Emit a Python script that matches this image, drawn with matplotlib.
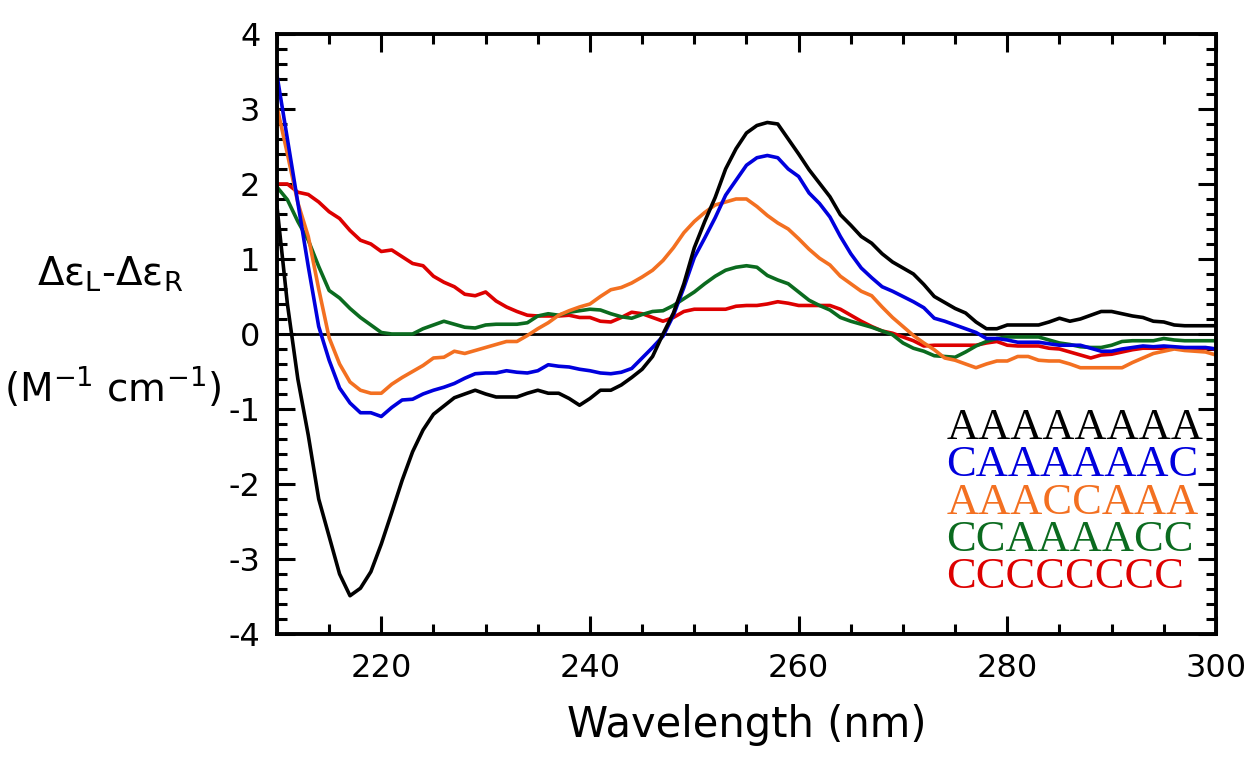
import numpy as np
import matplotlib.pyplot as plt
from matplotlib.ticker import MultipleLocator

plt.rcParams['axes.unicode_minus'] = False

# CD spectra, 1 nm steps from 210 to 300 nm
wavelength = np.arange(210, 301)

a8 = [1.7, 0.4, -0.6, -1.35, -2.2, -2.7, -3.2, -3.49, -3.39, -3.17,
      -2.8, -2.38, -1.95, -1.57, -1.28, -1.07, -0.96, -0.85, -0.8, -0.75,
      -0.8, -0.84, -0.84, -0.84, -0.79, -0.75, -0.79, -0.79, -0.86, -0.95,
      -0.86, -0.75, -0.75, -0.68, -0.58, -0.47, -0.3, 0.0, 0.28, 0.67,
      1.15, 1.5, 1.82, 2.2, 2.47, 2.68, 2.78, 2.82, 2.8, 2.6,
      2.4, 2.19, 2.01, 1.83, 1.59, 1.45, 1.3, 1.21, 1.07, 0.96,
      0.88, 0.8, 0.66, 0.5, 0.42, 0.34, 0.28, 0.16, 0.07, 0.07,
      0.12, 0.12, 0.12, 0.12, 0.16, 0.21, 0.17, 0.2, 0.25, 0.3,
      0.3, 0.27, 0.24, 0.22, 0.17, 0.16, 0.12, 0.11, 0.11, 0.11, 0.11]

ca6c = [3.45, 2.6, 1.75, 0.9, 0.1, -0.35, -0.72, -0.92, -1.05, -1.05,
        -1.1, -0.98, -0.88, -0.87, -0.8, -0.75, -0.71, -0.66, -0.59, -0.53,
        -0.52, -0.52, -0.49, -0.51, -0.52, -0.49, -0.41, -0.43, -0.44, -0.47,
        -0.49, -0.52, -0.53, -0.51, -0.46, -0.32, -0.18, -0.03, 0.25, 0.62,
        1.02, 1.28, 1.55, 1.85, 2.05, 2.25, 2.35, 2.38, 2.35, 2.2,
        2.1, 1.88, 1.74, 1.56, 1.3, 1.07, 0.88, 0.75, 0.63, 0.57,
        0.5, 0.43, 0.35, 0.21, 0.17, 0.12, 0.07, 0.02, -0.06, -0.06,
        -0.08, -0.11, -0.11, -0.11, -0.13, -0.15, -0.15, -0.15, -0.19, -0.23,
        -0.23, -0.2, -0.18, -0.16, -0.17, -0.16, -0.17, -0.18, -0.18, -0.18, -0.2]

aaaccaaa = [3.03, 2.4, 1.75, 1.3, 0.6, -0.05, -0.4, -0.64, -0.75, -0.79,
            -0.79, -0.67, -0.58, -0.5, -0.42, -0.32, -0.31, -0.23, -0.26, -0.22,
            -0.18, -0.14, -0.1, -0.1, -0.02, 0.07, 0.15, 0.25, 0.31, 0.36,
            0.4, 0.5, 0.59, 0.62, 0.68, 0.76, 0.85, 0.98, 1.15, 1.35,
            1.5, 1.62, 1.72, 1.76, 1.8, 1.8, 1.7, 1.58, 1.48, 1.4,
            1.27, 1.13, 1.01, 0.92, 0.77, 0.67, 0.57, 0.51, 0.36, 0.22,
            0.1, -0.02, -0.12, -0.21, -0.32, -0.35, -0.4, -0.45, -0.4, -0.36,
            -0.36, -0.3, -0.3, -0.35, -0.36, -0.36, -0.4, -0.45, -0.45, -0.45,
            -0.45, -0.45, -0.38, -0.32, -0.26, -0.23, -0.2, -0.22, -0.23, -0.24, -0.28]

cca4cc = [1.96, 1.79, 1.5, 1.25, 0.9, 0.58, 0.48, 0.34, 0.22, 0.12,
          0.02, 0.0, 0.0, 0.0, 0.07, 0.12, 0.17, 0.13, 0.09, 0.08,
          0.12, 0.13, 0.13, 0.13, 0.15, 0.24, 0.27, 0.25, 0.29, 0.31,
          0.33, 0.32, 0.27, 0.23, 0.21, 0.26, 0.3, 0.31, 0.38, 0.47,
          0.56, 0.67, 0.77, 0.85, 0.89, 0.91, 0.89, 0.78, 0.72, 0.67,
          0.56, 0.45, 0.38, 0.32, 0.22, 0.17, 0.13, 0.09, 0.04, -0.01,
          -0.12, -0.19, -0.23, -0.29, -0.3, -0.31, -0.24, -0.16, -0.1, -0.06,
          -0.04, -0.04, -0.04, -0.04, -0.08, -0.12, -0.14, -0.17, -0.18, -0.18,
          -0.15, -0.1, -0.09, -0.09, -0.09, -0.06, -0.08, -0.09, -0.09, -0.09, -0.09]

c8 = [2.0, 2.0, 1.89, 1.86, 1.76, 1.63, 1.54, 1.38, 1.25, 1.2,
      1.1, 1.12, 1.03, 0.94, 0.91, 0.77, 0.69, 0.63, 0.53, 0.51,
      0.56, 0.44, 0.36, 0.3, 0.25, 0.24, 0.24, 0.24, 0.25, 0.22,
      0.22, 0.17, 0.16, 0.22, 0.29, 0.27, 0.22, 0.17, 0.22, 0.3,
      0.33, 0.33, 0.33, 0.33, 0.37, 0.38, 0.38, 0.4, 0.43, 0.41,
      0.38, 0.38, 0.38, 0.38, 0.33, 0.25, 0.17, 0.1, 0.04, 0.01,
      -0.04, -0.09, -0.16, -0.15, -0.15, -0.15, -0.15, -0.15, -0.12, -0.1,
      -0.15, -0.16, -0.16, -0.16, -0.19, -0.2, -0.24, -0.28, -0.32, -0.28,
      -0.27, -0.24, -0.21, -0.19, -0.19, -0.19, -0.19, -0.19, -0.19, -0.19, -0.2]

names = ['AAAAAAAA', 'CAAAAAAC', 'AAACCAAA', 'CCAAAACC', 'CCCCCCCC']
colors = ['#000000', '#0000dd', '#f37021', '#0b6b1f', '#dd0000']
series = [a8, ca6c, aaaccaaa, cca4cc, c8]

fig = plt.figure(figsize=(12.51, 7.62), dpi=100)
ax = fig.add_axes([0.2214, 0.168, 0.7506, 0.7874])

ax.axhline(0, color='black', lw=2, zorder=1)
# draw red first so black ends up on top
for name, col, vals in reversed(list(zip(names, colors, series))):
    ax.plot(wavelength, vals, color=col, lw=2.6, zorder=2)

ax.set_xlim(210, 300)
ax.set_ylim(-4, 4)
ax.xaxis.set_major_locator(MultipleLocator(20))
ax.xaxis.set_minor_locator(MultipleLocator(5))
ax.yaxis.set_major_locator(MultipleLocator(1))
ax.yaxis.set_minor_locator(MultipleLocator(0.2))
ax.tick_params(which='both', direction='in', top=True, right=True, width=2.2)
ax.tick_params(which='major', length=13, labelsize=23)
ax.tick_params(axis='x', which='major', pad=14)
ax.tick_params(axis='y', which='major', pad=12)
ax.tick_params(which='minor', length=7)
ax.set_xticks([220, 240, 260, 280, 300])
for sp in ax.spines.values():
    sp.set_linewidth(2.8)

ax.set_xlabel('Wavelength (nm)', fontsize=30, labelpad=14)

fig.text(0.088, 0.64, r'Δε$_{\mathsf{L}}$-Δε$_{\mathsf{R}}$',
         fontsize=28, ha='center', va='center')
fig.text(0.09, 0.492, r'(M$^{\mathsf{-1}}$ cm$^{\mathsf{-1}}$)',
         fontsize=28, ha='center', va='center')

# sequence labels stacked in the lower right
for i, (name, col) in enumerate(zip(names, colors)):
    ax.text(0.713, 0.343 - i * 0.062, name, transform=ax.transAxes,
            color=col, fontsize=32, family='Liberation Serif',
            ha='left', va='center')

fig.savefig('out.png', dpi=100)
